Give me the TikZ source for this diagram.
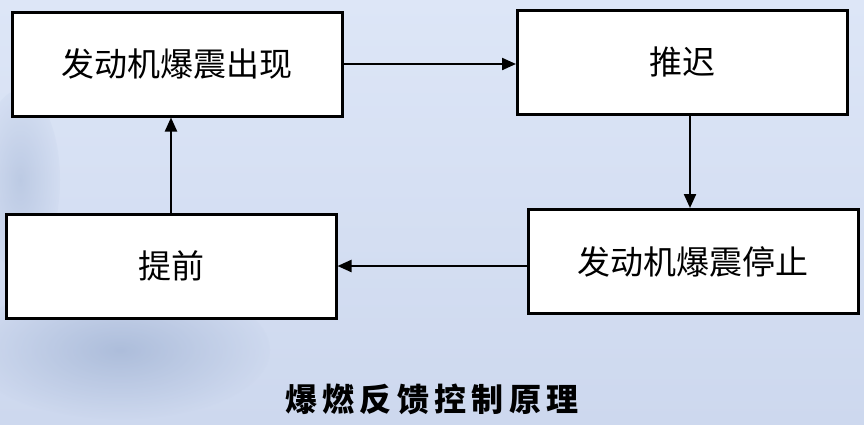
\documentclass[tikz,border=0pt]{standalone}
\usepackage{fontspec}
\newfontfamily\cjk{Noto Sans CJK SC}
\usetikzlibrary{arrows.meta}
\definecolor{bgtop}{RGB}{221,230,247}
\definecolor{bgbot}{RGB}{205,216,238}
\definecolor{blob}{RGB}{150,170,205}
\begin{document}
\begin{tikzpicture}[x=1pt,y=-1pt,
  box/.style={draw=black,line width=3pt,fill=white,minimum width=330pt,minimum height=104pt,inner sep=0pt,font=\cjk\fontsize{33}{36}\selectfont},
  conn/.style={line width=2.2pt,-{Triangle[length=14pt,width=12pt]}}]
\useasboundingbox (0,0) rectangle (864,424);
\shade[top color=bgtop,bottom color=bgbot] (0,0) rectangle (864,424);
\shade[inner color=blob,outer color=bgbot,opacity=0.6] (120,350) ellipse (150 and 70);
\shade[inner color=blob,outer color=bgbot,opacity=0.4] (20,180) ellipse (40 and 90);
\node[box] (a) at (177,64) {发动机爆震出现};
\node[box] (b) at (682.5,62) {推迟};
\node[box] (c) at (171,266) {提前};
\node[box] (d) at (693,261.5) {发动机爆震停止};
\draw[conn] (a.east) -- (b.west |- a.east);
\draw[conn] (b.south -| 690,0) -- (d.north -| 690,0);
\draw[conn] (d.west |- 0,266) -- (c.east |- 0,266);
\draw[conn] (c.north) -- (a.south -| c.north);
\node[font=\cjk\bfseries\fontsize{32}{34}\selectfont,inner sep=0pt] (t) at (432,399) {爆\,燃\,反\,馈\,控\,制\,原\,理};
\end{tikzpicture}
\end{document}
